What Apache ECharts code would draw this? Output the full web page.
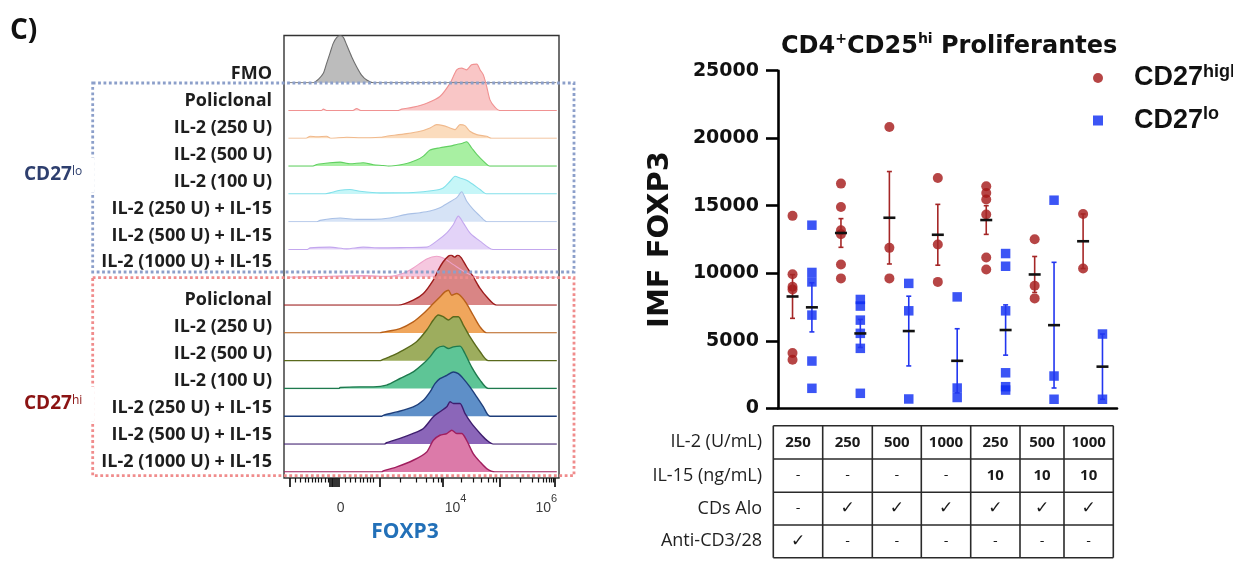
<!DOCTYPE html>
<html><head><meta charset="utf-8">
<script src="https://cdn.jsdelivr.net/npm/echarts@6/dist/echarts.min.js"></script>
<style>html,body{margin:0;padding:0;background:#fff}#c{width:1233px;height:571px}</style>
</head><body><div id="c"></div>
<script>
// ================= RIGHT PANEL DATA =================
const conditions = ['Anti-CD3/28 + IL-2 250', 'CDs Alo + IL-2 250', 'CDs Alo + IL-2 500', 'CDs Alo + IL-2 1000',
  'CDs Alo + IL-2 250 + IL-15', 'CDs Alo + IL-2 500 + IL-15', 'CDs Alo + IL-2 1000 + IL-15'];
const seriesNames = ['CD27high', 'CD27lo'];
const cd27hi = [
  [14250, 9930, 9000, 8800, 4100, 3600],
  [16640, 14910, 13190, 12890, 10650, 9620],
  [20830, 11880, 9620],
  [17060, 12130, 9360],
  [16440, 15950, 15460, 14350, 11170, 10280],
  [12520, 9070, 8140],
  [14390, 10350]
];
const cd27lo = [
  [13560, 10060, 9360, 6900, 3500, 1480],
  [8060, 7570, 6530, 5550, 4440, 1110],
  [9250, 7220, 690],
  [8250, 1500, 800],
  [11460, 10520, 7220, 2630, 1600, 1350],
  [15410, 2390, 670],
  [5500, 670]
];
const yTicks = { min: 0, max: 25000, interval: 5000 };
const tableRowLabels = ['IL-2 (U/mL)', 'IL-15 (ng/mL)', 'CDs Alo', 'Anti-CD3/28'];
const il2Row = ['250', '250', '500', '1000', '250', '500', '1000'];
const il15Row = ['-', '-', '-', '-', '10', '10', '10'];
const cdsAloRow = ['-', '✓', '✓', '✓', '✓', '✓', '✓'];
const antiCD3Row = ['✓', '-', '-', '-', '-', '-', '-'];

// ================= LEFT PANEL DATA (FOXP3 display scale 0-100, height % of 100) =================
const histLabels = ['FMO', 'Policlonal', 'IL-2 (250 U)', 'IL-2 (500 U)', 'IL-2 (100 U)', 'IL-2 (250 U) + IL-15',
  'IL-2 (500 U) + IL-15', 'IL-2 (1000 U) + IL-15',
  'Policlonal', 'IL-2 (250 U)', 'IL-2 (500 U)', 'IL-2 (100 U)', 'IL-2 (250 U) + IL-15', 'IL-2 (500 U) + IL-15', 'IL-2 (1000 U) + IL-15'];
const hFMO = [[1.5,0],[10.7,0],[12.5,6.7],[14.3,18.7],[15.5,38.7],[16.7,58.7],[17.9,78.7],[19.2,90.7],[20.4,94],[21.6,90.7],[22.8,75.3],[24.6,52],[26.4,32],[28.2,15.3],[30.1,5.3],[32.5,0],[99,0]];
const hLoPoli = [[1.6,0],[13.5,0],[14.3,2.7],[15.5,0],[25,0],[26.4,4],[28,0],[41.5,0],[42.8,2.7],[47,6.7],[51.9,14.7],[56.7,28],[60.4,54.7],[62.8,81.3],[64.6,84.7],[66.4,81.3],[68.2,91.3],[70.1,92.7],[71.3,81.3],[72.5,71.3],[73.7,48],[74.9,21.3],[76.7,6.7],[78.5,0],[99.2,0]];
const hLo250 = [[1.6,0],[8,0],[9.5,4],[12,3],[15.5,4],[17,0],[22.8,2],[28,1],[34.9,2],[37.3,4],[44.6,9.3],[49.5,14],[53.1,20.7],[55.5,27.3],[57.9,25.3],[60.4,20.7],[62.2,17.3],[64,27.3],[65.8,25.3],[67.6,14],[70.1,7.3],[73.7,4],[75.5,0],[99.2,0]];
const hLo500 = [[1.6,0],[10.5,0],[11.9,3.3],[16.7,6.7],[20.4,8],[24,4.7],[28.8,6.7],[32.5,2.7],[36.1,1.3],[38,0],[44.6,5.3],[48.2,12],[50.7,20],[53.1,32],[56.7,36.7],[60.4,40],[62.8,43.3],[64.6,45.3],[66.4,48.7],[68.2,36.7],[70.1,23.3],[72.5,10],[74.9,0],[99.2,0]];
const hLo100 = [[1.6,0],[15,0],[16.7,2],[20.4,7.3],[24,8.7],[27.6,5.3],[34.9,2],[47,2.7],[54.3,6.7],[57.9,12],[60.4,25.3],[62.2,35.3],[64,32],[66.4,27.3],[68.8,18.7],[71.3,8.7],[73.7,0],[99.2,0]];
const hLo250i15 = [[1.6,0],[12,0],[13.1,2.7],[20.4,7.3],[26.4,4.7],[32.5,4.7],[38.5,7.3],[44.6,14.7],[49.5,18],[53.1,21.3],[56.7,28],[59.8,38],[62.8,48],[64.6,60],[66.4,41.3],[68.8,24.7],[71.3,11.3],[73.7,0],[99.2,0]];
const hLo500i15 = [[1.6,0],[8.5,0],[9.5,3.3],[16.7,4.7],[22.8,1.3],[28.8,4.7],[34.9,3.3],[44.6,4],[51.9,4.7],[55.5,16.7],[59.2,33.3],[61.6,50],[63.4,66.7],[65.2,53.3],[67.6,33.3],[71.3,16.7],[76.1,0],[99.2,0]];
const hLo1000i15 = [[1.6,0],[16.7,2],[28.8,3.3],[38.5,2],[43.4,8],[47,18.7],[51.9,36.7],[55.5,42],[57.9,38.7],[61.6,25.3],[66.4,8.7],[71.3,0],[99.2,0]];
const hHiPoli = [[0,0],[41.6,0],[47,10],[50.7,23.3],[54.3,50],[56.1,70],[57.9,86.7],[59.8,98],[60.8,100],[62,96],[63.2,100],[64.4,95],[66.4,76.7],[68.8,56.7],[71.3,33.3],[73.7,16.7],[77.3,0],[99.2,0]];
const hHi250 = [[0,0],[34.9,0],[35.8,1.3],[42.2,8.7],[47,22],[50.7,38.7],[54.3,58.7],[56.7,72],[58.5,82],[59.8,85.3],[61,75.3],[62.8,78.7],[64.6,72],[66.4,58.7],[68.8,35.3],[71.3,12],[73.7,0],[99.2,0]];
const hHi500 = [[0,0],[34.9,0],[35.5,1.3],[38.5,8],[43.4,21.3],[48.2,38],[51.9,61.3],[54.3,81.3],[56.1,91.3],[57.9,88],[59.8,81.3],[61.6,88],[63.4,88],[65.2,71.3],[67.6,48],[71.3,18],[74.3,0],[99.2,0]];
const hHi100 = [[0,0],[20,0],[20.4,2],[27.6,3.3],[32.5,3.3],[37.3,6.7],[42.2,20],[47,33.3],[50.7,50],[53.1,63.3],[55.5,80],[57.9,84.7],[59.8,80],[61.6,83.3],[64,84.7],[65.8,70],[68.2,43.3],[71.3,16.7],[74.3,0],[99.2,0]];
const hHi250i15 = [[0,0],[35.5,0],[36.1,2],[41,8.7],[47,18.7],[50.7,32],[53.1,48.7],[54.9,65.3],[56.7,75.3],[59.2,82],[61.6,88.7],[63.4,85.3],[65.2,75.3],[67.6,58.7],[70.1,38.7],[72.5,18.7],[74.9,0],[99.2,0]];
const hHi500i15 = [[0,0],[36.5,0],[37.3,2.7],[42.2,11.3],[47,21.3],[50.7,31.3],[54.3,54.7],[56.7,64.7],[59.2,74.7],[60.4,84.7],[61.6,81.3],[64,81.3],[65.8,61.3],[68.2,41.3],[71.3,21.3],[73.7,8],[76.1,0],[99.2,0]];
const hHi1000i15 = [[0,0],[35.5,0],[36.1,2],[41,10],[47,23.3],[51.9,40],[54.3,63.3],[56.7,73.3],[59.2,76.7],[61,83.3],[62.8,76.7],[64.6,76.7],[66.4,63.3],[68.8,36.7],[71.3,20],[73.7,6.7],[76.7,0],[99.2,0]];
const foxMajorTicks = [2.2, 16.7, 17.3, 17.9, 18.5, 19.2, 19.8, 34.7, 57.9, 78.5, 98.5];
const foxMinorTicks = [4.0,5.8,7.6,8.8,10.1,11.3,12.5,13.7,14.9,16.1,22.2,24.0,25.8,27.6,28.8,30.1,31.3,32.5,42.2,48.2,51.9,54.3,56.1,57.3,64.6,68.8,71.9,74.3,76.1,77.3,85.8,90.1,92.5,94.3,95.5,96.5,97.3,97.9];
const foxLabelPos = [20.7, 62.5, 95.5];
const foxLabels = ['{n|0}{h| }', '{n|10}{s|4}{h| }', '{n|10}{s|6}{h| }'];

// ================= STYLES / LAYOUT =================
const histData = [hFMO, hLoPoli, hLo250, hLo500, hLo100, hLo250i15, hLo500i15, hLo1000i15,
  hHiPoli, hHi250, hHi500, hHi100, hHi250i15, hHi500i15, hHi1000i15];
const histFill = ['#bcbcbc', '#f9c6c6', '#fbdcbd', '#a8f0a2', '#c6f6f8', '#d6e3f6', '#e3d3f8', '#f6c8df',
  '#d98585', '#f0a65c', '#9dad5e', '#5ec596', '#5e8fc8', '#8b66b9', '#dc7aa9'];
const histLine = ['#6e6e6e', '#f09292', '#f0b98c', '#62d062', '#82e0ea', '#a9c0e6', '#c3a7ee', '#eea2c9',
  '#9c1c1c', '#b8601a', '#5a6a1c', '#1e7a4e', '#1e3e7a', '#3e1e6e', '#a01e5e'];
const histBase0 = 82.7, histStep = 27.8, histH = 50;
const boxL = 284, boxW = 275;

const RED = '#a41717', BLUE = '#0b2af2';
const mean = a => a.reduce((s, v) => s + v, 0) / a.length;
const sem = a => { const m = mean(a); return Math.sqrt(a.reduce((s, v) => s + (v - m) * (v - m), 0) / (a.length - 1)) / Math.sqrt(a.length); };
const OFF = 0.2;
const redPts = [], bluePts = [], redStats = [], blueStats = [];
cd27hi.forEach((g, i) => { g.forEach(v => redPts.push([i + 0.5 - OFF, v])); redStats.push([i + 0.5 - OFF, mean(g), sem(g)]); });
cd27lo.forEach((g, i) => { g.forEach(v => bluePts.push([i + 0.5 + OFF, v])); blueStats.push([i + 0.5 + OFF, mean(g), sem(g)]); });

function errRender(color) {
  return function (params, api) {
    const x = api.value(0), m = api.value(1), s = api.value(2);
    const pm = api.coord([x, m]), pt = api.coord([x, m + s]), pb = api.coord([x, m - s]);
    const cap = 2.5, half = 6;
    const st = { stroke: color, lineWidth: 1.6 };
    return { type: 'group', children: [
      { type: 'line', shape: { x1: pt[0], y1: pt[1], x2: pb[0], y2: pb[1] }, style: st },
      { type: 'line', shape: { x1: pt[0] - cap, y1: pt[1], x2: pt[0] + cap, y2: pt[1] }, style: st },
      { type: 'line', shape: { x1: pb[0] - cap, y1: pb[1], x2: pb[0] + cap, y2: pb[1] }, style: st },
      { type: 'line', shape: { x1: pm[0] - half, y1: pm[1], x2: pm[0] + half, y2: pm[1] }, style: { stroke: '#111', lineWidth: 2.6 } }
    ] };
  };
}

const grids = [
  { left: 778, top: 70.7, width: 339, height: 337.6 },
  { left: boxL, top: 35.5, width: boxW, height: 442.5, show: true, borderColor: '#333', borderWidth: 1.4, backgroundColor: 'transparent' }
];
const labStyle = { fontFamily: 'Liberation Sans', color: '#3a3a3a' };
const xAxes = [
  { type: 'category', gridIndex: 0, data: conditions, position: 'bottom',
    axisLine: { lineStyle: { color: '#000', width: 2.6 } },
    axisTick: { alignWithLabel: true, length: 13, lineStyle: { color: '#000', width: 2.6 } },
    axisLabel: { show: false }, splitLine: { show: false } },
  { type: 'value', gridIndex: 0, min: 0, max: 7, show: false },
  { type: 'value', gridIndex: 1, min: 0, max: 100, position: 'bottom',
    axisLine: { show: false }, splitLine: { show: false },
    axisTick: { show: true, customValues: foxMajorTicks, length: 9, lineStyle: { color: '#111', width: 1.7 } },
    axisLabel: { show: true, customValues: foxLabelPos, margin: 15, color: '#3a3a3a', fontFamily: 'Liberation Sans', fontSize: 14,
      formatter: (v) => { let bi = 0; foxLabelPos.forEach((p, i) => { if (Math.abs(p - v) < Math.abs(foxLabelPos[bi] - v)) bi = i; }); return foxLabels[bi]; },
      rich: {
        n: Object.assign({ fontSize: 14, lineHeight: 14, verticalAlign: 'bottom' }, labStyle),
        s: Object.assign({ fontSize: 11, lineHeight: 11, verticalAlign: 'top' }, labStyle),
        h: Object.assign({ fontSize: 2, lineHeight: 22, verticalAlign: 'top' }, labStyle) } } },
  { type: 'value', gridIndex: 1, min: 0, max: 100, position: 'bottom',
    axisLine: { show: false }, splitLine: { show: false }, axisLabel: { show: false },
    axisTick: { show: true, customValues: foxMinorTicks, length: 4.5, lineStyle: { color: '#111', width: 1.2 } } }
];
const yAxes = [
  { type: 'value', gridIndex: 0, min: yTicks.min, max: yTicks.max, interval: yTicks.interval,
    axisLine: { show: true, lineStyle: { color: '#000', width: 2.6 } },
    axisTick: { show: true, length: 12, lineStyle: { color: '#000', width: 2.6 } },
    axisLabel: { fontFamily: 'DejaVu Sans', fontWeight: 'bold', fontSize: 19, color: '#111', margin: 19, formatter: v => String(v) },
    splitLine: { show: false },
    name: 'IMF FOXP3', nameLocation: 'middle', nameRotate: 90, nameGap: 103,
    nameTextStyle: { fontFamily: 'DejaVu Sans', fontWeight: 'bold', fontSize: 29, color: '#111' } },
  { type: 'value', gridIndex: 1, min: 0, max: 1, show: false }
];
const series = [];
histData.forEach((d, k) => {
  const base = histBase0 + histStep * k;
  grids.push({ left: boxL, width: boxW, top: base - histH, height: histH });
  xAxes.push({ type: 'value', gridIndex: 2 + k, min: 0, max: 100, show: false });
  yAxes.push({ type: 'value', gridIndex: 2 + k, min: 0, max: 100, show: false });
  series.push({ type: 'line', name: histLabels[k] + (k === 0 ? '' : (k < 8 ? ' lo' : ' hi')), xAxisIndex: 4 + k, yAxisIndex: 2 + k,
    data: d, showSymbol: false, smooth: 0.25, silent: true, z: 2,
    lineStyle: { color: histLine[k], width: k >= 8 ? 1.4 : 1.1 },
    areaStyle: { color: histFill[k], opacity: 1 } });
});
series.push(
  { type: 'custom', name: 'err-hi', xAxisIndex: 1, yAxisIndex: 0, data: redStats, renderItem: errRender('#a52626'), z: 6, clip: false, silent: true },
  { type: 'custom', name: 'err-lo', xAxisIndex: 1, yAxisIndex: 0, data: blueStats, renderItem: errRender('#2236f0'), z: 6, clip: false, silent: true },
  { type: 'scatter', name: seriesNames[0], xAxisIndex: 1, yAxisIndex: 0, data: redPts, symbol: 'circle', symbolSize: 10, itemStyle: { color: RED }, z: 5 },
  { type: 'scatter', name: seriesNames[1], xAxisIndex: 1, yAxisIndex: 0, data: bluePts, symbol: 'rect', symbolSize: 9.5, itemStyle: { color: BLUE }, z: 5 }
);

// ---------- graphics ----------
const G = [];
const textEl = (x, y, text, st, z) => ({ type: 'text', x, y, z: z || 60, silent: true, style: Object.assign({ text, fill: '#1a1a1a', verticalAlign: 'middle' }, st) });
G.push(textEl(10, 31, 'C)', { fontFamily: 'Open Sans', fontWeight: 'bold', fontSize: 28, fill: '#111' }));
histLabels.forEach((t, k) => {
  const y = k < 8 ? 74 + 26.9 * k : 300 + 26.9 * (k - 8);
  G.push(textEl(272, y, t, { align: 'right', fontFamily: 'Open Sans', fontWeight: 'bold', fontSize: 18, fill: '#1e1e1e' }));
});
G.push({ type: 'rect', z: 55, silent: true, shape: { x: 92.7, y: 83, width: 481.3, height: 189 }, style: { fill: 'none', stroke: '#8c9fca', lineWidth: 2.8, lineDash: [2.8, 2.6] } });
G.push({ type: 'rect', z: 55, silent: true, shape: { x: 92.7, y: 277.7, width: 481.3, height: 198 }, style: { fill: 'none', stroke: '#f08c8c', lineWidth: 2.8, lineDash: [2.8, 2.6] } });
G.push(textEl(22, 175, 'CD27{s|lo}', { fontFamily: 'Open Sans', fontWeight: 'bold', fontSize: 19, fill: '#2e3f6e', backgroundColor: '#fff', padding: [8, 12, 8, 2],
  rich: { s: { fontFamily: 'Open Sans', fontSize: 12, fill: '#2e3f6e', verticalAlign: 'top', lineHeight: 18 } } }, 58));
G.push(textEl(22, 404, 'CD27{s|hi}', { fontFamily: 'Open Sans', fontWeight: 'bold', fontSize: 19, fill: '#8b1313', backgroundColor: '#fff', padding: [8, 12, 8, 2],
  rich: { s: { fontFamily: 'Open Sans', fontSize: 12, fill: '#8b1313', verticalAlign: 'top', lineHeight: 18 } } }, 58));
G.push(textEl(405, 532, 'FOXP3', { align: 'center', fontFamily: 'Open Sans', fontWeight: 'bold', fontSize: 21, fill: '#2270b8' }));

// table
const colEdges = [773.3, 822.7, 872.3, 921.3, 970.7, 1020, 1064, 1113.3];
const rowEdges = [425.7, 459, 492.3, 525, 557.7];
rowEdges.forEach(y => G.push({ type: 'line', z: 50, silent: true, shape: { x1: colEdges[0], y1: y, x2: colEdges[7], y2: y }, style: { stroke: '#2a2a2a', lineWidth: 1.6 } }));
colEdges.forEach(x => G.push({ type: 'line', z: 50, silent: true, shape: { x1: x, y1: rowEdges[0], x2: x, y2: rowEdges[4] }, style: { stroke: '#2a2a2a', lineWidth: 1.6 } }));
const tableRows = [il2Row, il15Row, cdsAloRow, antiCD3Row];
tableRows.forEach((row, r) => {
  const yc = (rowEdges[r] + rowEdges[r + 1]) / 2;
  G.push(textEl(762, yc, tableRowLabels[r], { align: 'right', fontFamily: 'Open Sans', fontSize: 18, fill: '#222' }));
  row.forEach((t, c) => {
    const xc = (colEdges[c] + colEdges[c + 1]) / 2;
    const isNum = /\d/.test(t);
    G.push(textEl(xc, yc, t, { align: 'center', fontFamily: isNum ? 'Open Sans' : 'DejaVu Sans', fontWeight: isNum ? 'bold' : 'normal',
      fontSize: isNum ? 15 : (t === '✓' ? 17 : 13), fill: '#1a1a1a' }));
  });
});

const option = {
  animation: false,
  backgroundColor: '#fff',
  title: { left: 776, top: 27, text: '{a|CD4}{s|+}{a|CD25}{s|hi}{a| Proliferantes}',
    textStyle: { rich: {
      a: { fontFamily: 'DejaVu Sans', fontWeight: 'bold', fontSize: 24, color: '#111', lineHeight: 30 },
      s: { fontFamily: 'DejaVu Sans', fontWeight: 'bold', fontSize: 14, color: '#111', lineHeight: 22, verticalAlign: 'top' } } } },
  legend: { orient: 'vertical', left: 1088, top: 58, itemWidth: 10, itemHeight: 10, itemGap: 14,
    data: [{ name: seriesNames[0], icon: 'circle' }, { name: seriesNames[1], icon: 'rect' }],
    formatter: n => '{a|CD27}{s|' + n.slice(4) + '}',
    textStyle: { color: '#111', padding: [0, 0, 0, 26],
      rich: {
        a: { fontFamily: 'Liberation Sans', fontWeight: 'bold', fontSize: 27, color: '#111', lineHeight: 30 },
        s: { fontFamily: 'Liberation Sans', fontWeight: 'bold', fontSize: 18, color: '#111', verticalAlign: 'top', lineHeight: 20 } } } },
  grid: grids, xAxis: xAxes, yAxis: yAxes, series, graphic: G
};
const chart = echarts.init(document.getElementById('c'), null, { renderer: 'canvas' });
chart.setOption(option);
</script></body></html>
